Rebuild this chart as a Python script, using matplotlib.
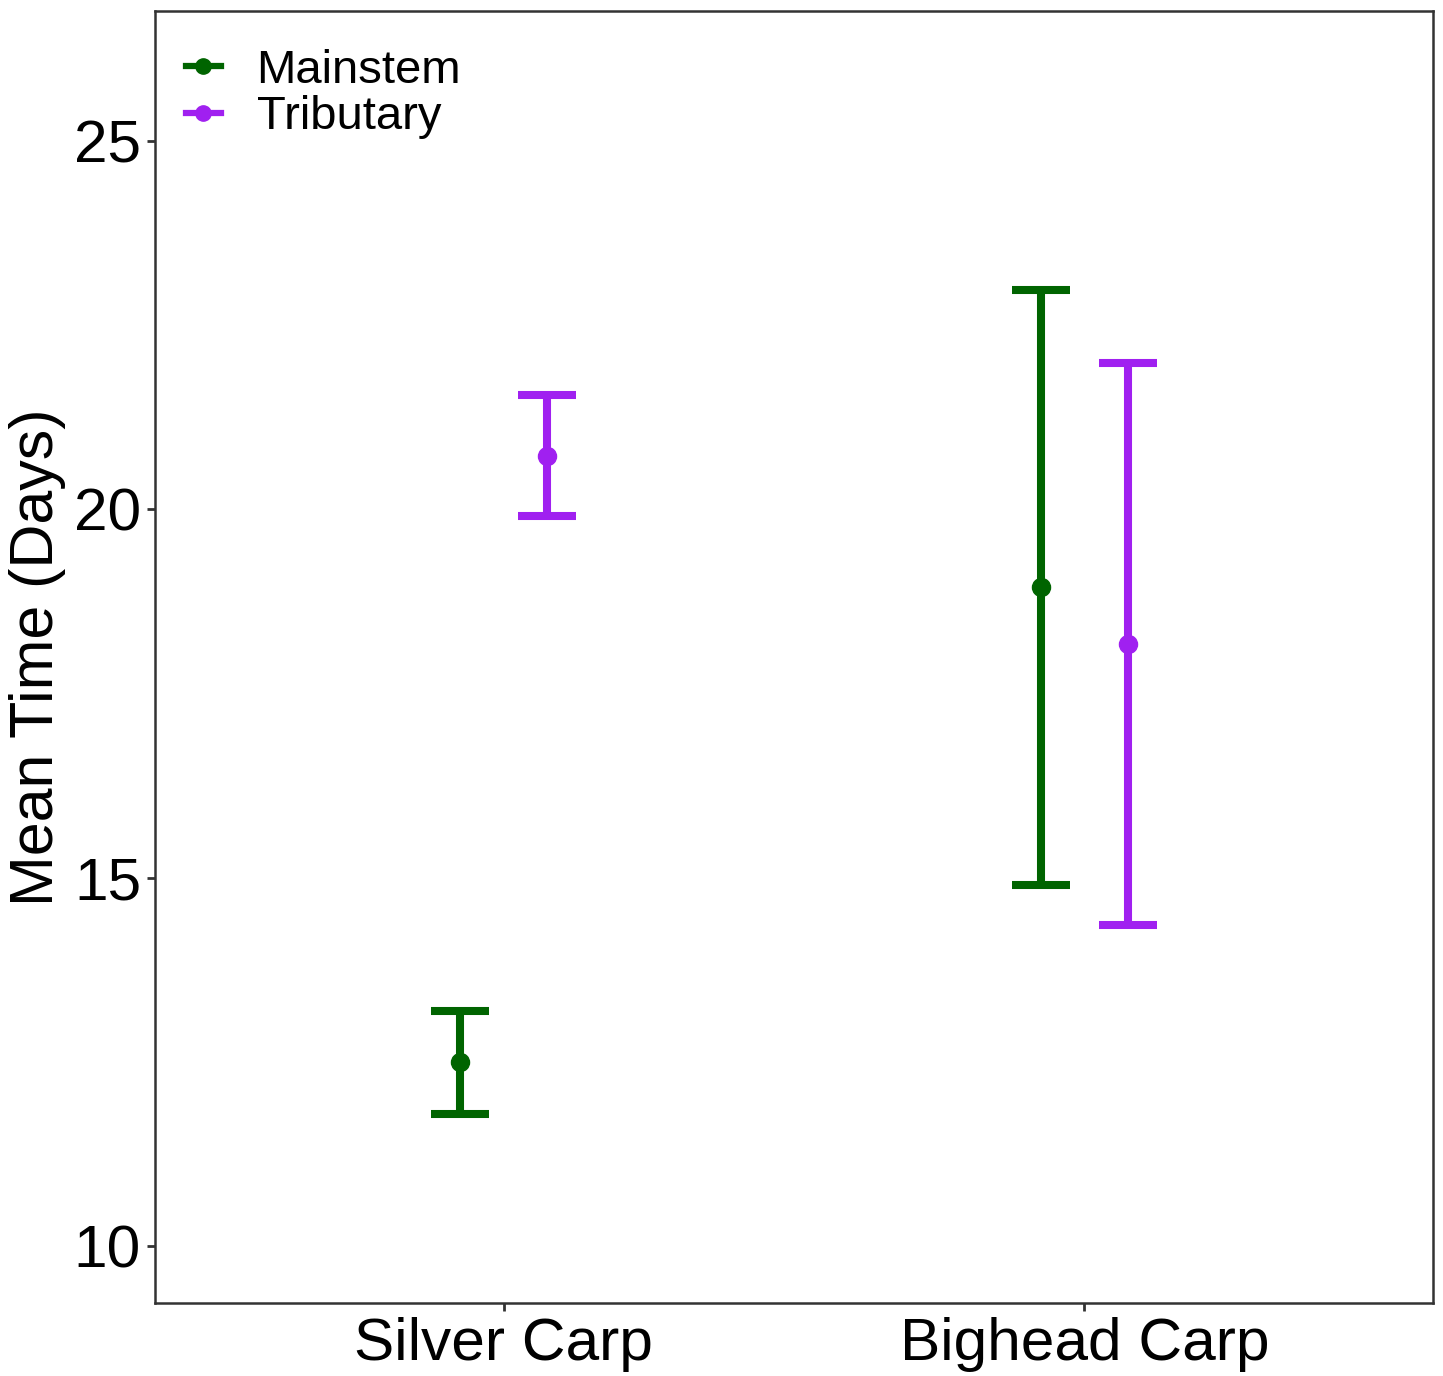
import numpy as np
import matplotlib.pyplot as plt
from matplotlib.lines import Line2D

# species groups and habitat series
species = ['Silver Carp', 'Bighead Carp']
habitats = ['Mainstem', 'Tributary']
colors = ['#006400', '#A020F0']

# mean time (days) with lower / upper interval bounds
mainstem_mean = [12.50, 18.94]
mainstem_low = [11.79, 14.90]
mainstem_high = [13.19, 22.97]

tributary_mean = [20.72, 18.17]
tributary_low = [19.90, 14.35]
tributary_high = [21.55, 21.98]

plt.rcParams['font.family'] = ['Liberation Sans', 'DejaVu Sans']

fig = plt.figure(figsize=(14.43, 13.76), dpi=100)
ax = fig.add_axes([0.1074, 0.0531, 0.8857, 0.9389])

x = np.arange(1, len(species) + 1)
dodge = 0.075
series = [
    (mainstem_mean, mainstem_low, mainstem_high),
    (tributary_mean, tributary_low, tributary_high),
]
for i, (mean, low, high) in enumerate(series):
    mean = np.array(mean)
    err = [mean - np.array(low), np.array(high) - mean]
    xs = x + (i - 0.5) * 2 * dodge
    ax.errorbar(xs, mean, yerr=err, fmt='o', color=colors[i],
                markersize=13, elinewidth=5.8, capsize=21, capthick=5.8,
                zorder=3)

ax.set_xlim(0.4, 2.6)
ax.set_ylim(9.227, 26.76)
ax.set_xticks(x)
ax.set_xticklabels(species)
ax.set_yticks([10, 15, 20, 25])
ax.tick_params(axis='both', labelsize=43.5, length=6, width=2,
               color='#333333', pad=4)
ax.set_ylabel('Mean Time (Days)', fontsize=43.8, labelpad=6)

for s in ax.spines.values():
    s.set_color('#333333')
    s.set_linewidth(1.8)

handles = [Line2D([0], [0], color=c, lw=4.5, marker='o', markersize=11)
           for c in colors]
ax.legend(handles, habitats, loc='upper left', frameon=False, fontsize=34,
          handlelength=0.75, handletextpad=0.75, labelspacing=0.05,
          borderaxespad=0.25, bbox_to_anchor=(0.0, 0.9945))

fig.savefig('out.png', dpi=100)
